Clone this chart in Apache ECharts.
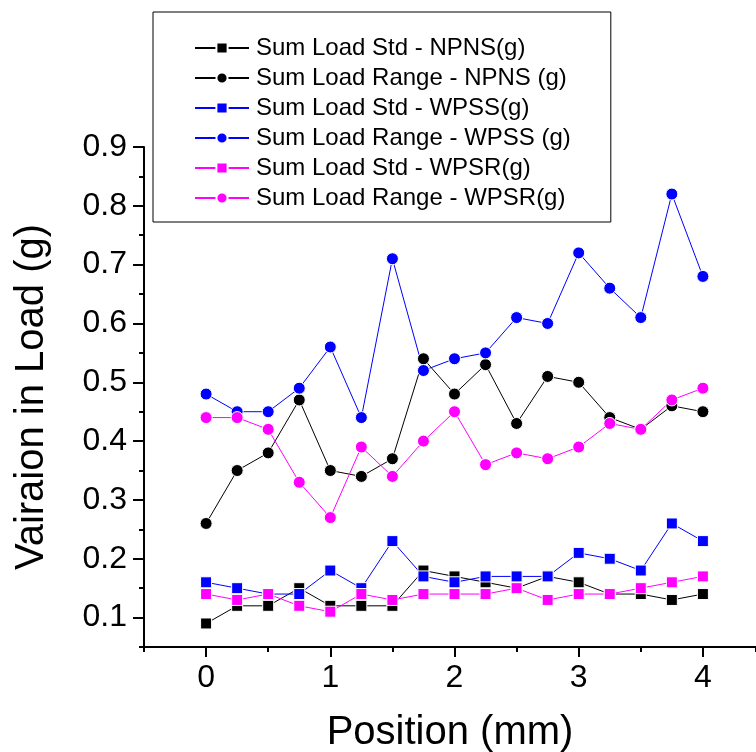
<!DOCTYPE html>
<html>
<head>
<meta charset="utf-8">
<script src="https://cdn.jsdelivr.net/npm/echarts@6/dist/echarts.min.js"></script>
<style>html,body{margin:0;padding:0;background:#fff;}#c{width:756px;height:752px;}</style>
</head>
<body>
<div id="c"></div>
<script>
// ---- data ----
const positions = [0, 0.25, 0.5, 0.75, 1, 1.25, 1.5, 1.75, 2, 2.25, 2.5, 2.75, 3, 3.25, 3.5, 3.75, 4];
const stdNPNS   = [0.09, 0.12, 0.12, 0.15, 0.12, 0.12, 0.12, 0.18, 0.17, 0.16, 0.15, 0.17, 0.16, 0.14, 0.14, 0.13, 0.14];
const rangeNPNS = [0.26, 0.35, 0.38, 0.47, 0.35, 0.34, 0.37, 0.54, 0.48, 0.53, 0.43, 0.51, 0.50, 0.44, 0.42, 0.46, 0.45];
const stdWPSS   = [0.16, 0.15, 0.14, 0.14, 0.18, 0.15, 0.23, 0.17, 0.16, 0.17, 0.17, 0.17, 0.21, 0.20, 0.18, 0.26, 0.23];
const rangeWPSS = [0.48, 0.45, 0.45, 0.49, 0.56, 0.44, 0.71, 0.52, 0.54, 0.55, 0.61, 0.60, 0.72, 0.66, 0.61, 0.82, 0.68];
const stdWPSR   = [0.14, 0.13, 0.14, 0.12, 0.11, 0.14, 0.13, 0.14, 0.14, 0.14, 0.15, 0.13, 0.14, 0.14, 0.15, 0.16, 0.17];
const rangeWPSR = [0.44, 0.44, 0.42, 0.33, 0.27, 0.39, 0.34, 0.40, 0.45, 0.36, 0.38, 0.37, 0.39, 0.43, 0.42, 0.47, 0.49];
const seriesNames = [
  'Sum Load Std - NPNS(g)',
  'Sum Load Range - NPNS (g)',
  'Sum Load Std - WPSS(g)',
  'Sum Load Range - WPSS (g)',
  'Sum Load Std - WPSR(g)',
  'Sum Load Range - WPSR(g)'
];
const xTitle = 'Position (mm)';
const yTitle = 'Vairaion in Load (g)';

// ---- layout ----
const FONT = 'Liberation Sans, Arial, sans-serif';
const W = 756;
const GL = 144, GT = 147, GH = 500;
const PX_PER_X = 124.2;             // pixels per mm on the x axis
const X_MIN = -0.5, Y_MIN = 0.05, Y_MAX = 0.9;
const GW = W - GL;                  // axis runs to the right edge of the page
const X_MAX = X_MIN + GW / PX_PER_X;
const pxPerY = GH / (Y_MAX - Y_MIN);

function pairs(vals) { return positions.map((p, i) => [p, vals[i]]); }
function mkSeries(name, vals, color, symbol, size) {
  return {
    name: name, type: 'line', xAxisIndex: 0, yAxisIndex: 0,
    data: pairs(vals), symbol: symbol, symbolSize: size,
    lineStyle: { color: color, width: 1 },
    itemStyle: { color: color, borderColor: '#fff', borderWidth: 1 },
    emphasis: { disabled: true }
  };
}

const chart = echarts.init(document.getElementById('c'), null, { renderer: 'canvas' });
const axisLineStyle = { color: '#000', width: 2 };
chart.setOption({
  animation: false,
  backgroundColor: '#fff',
  textStyle: { fontFamily: FONT },
  grid: [
    { left: GL, top: GT, width: GW, height: GH, outerBoundsMode: 'none', containLabel: false },
    { left: GL, top: GT, width: GW, height: pxPerY * (0.9 - 0.1), outerBoundsMode: 'none', containLabel: false },
    { left: GL + PX_PER_X * (0 - X_MIN), top: GT, width: PX_PER_X * 4, height: GH, outerBoundsMode: 'none', containLabel: false }
  ],
  xAxis: [
    { gridIndex: 0, type: 'value', min: X_MIN, max: X_MAX, interval: 0.5,
      axisLine: { show: true, onZero: false, lineStyle: axisLineStyle },
      axisTick: { show: true, length: 5, lineStyle: axisLineStyle },
      axisLabel: { show: false }, splitLine: { show: false },
      name: xTitle, nameLocation: 'middle', nameGap: 66,
      nameTextStyle: { fontSize: 40, color: '#000', fontFamily: FONT } },
    { gridIndex: 1, type: 'value', min: X_MIN, max: X_MAX, show: false },
    { gridIndex: 2, type: 'value', min: 0, max: 4, interval: 1,
      axisLine: { show: false, onZero: false },
      axisTick: { show: true, length: 10, lineStyle: axisLineStyle },
      axisLabel: { show: true, fontSize: 32, color: '#000', margin: 15, fontFamily: FONT },
      splitLine: { show: false } }
  ],
  yAxis: [
    { gridIndex: 0, type: 'value', min: Y_MIN, max: Y_MAX, interval: 0.05,
      axisLine: { show: true, onZero: false, lineStyle: axisLineStyle },
      axisTick: { show: true, length: 5, lineStyle: axisLineStyle },
      axisLabel: { show: false }, splitLine: { show: false },
      name: yTitle, nameLocation: 'middle', nameGap: 92, nameRotate: 90,
      nameTextStyle: { fontSize: 40, color: '#000', fontFamily: FONT } },
    { gridIndex: 1, type: 'value', min: 0.1, max: 0.9, interval: 0.1,
      axisLine: { show: false, onZero: false },
      axisTick: { show: true, length: 11, lineStyle: axisLineStyle },
      axisLabel: { show: true, fontSize: 32, color: '#000', margin: 17, fontFamily: FONT,
        formatter: v => v.toFixed(1) },
      splitLine: { show: false } },
    { gridIndex: 2, type: 'value', min: Y_MIN, max: Y_MAX, show: false }
  ],
  legend: {
    show: true, orient: 'vertical', left: 153, top: 12,
    backgroundColor: '#fff', borderColor: '#000', borderWidth: 1, borderRadius: 0,
    padding: [24, 40, 12, 41],
    itemWidth: 54, itemHeight: 14, itemGap: 6,
    textStyle: { fontSize: 24, color: '#000', fontFamily: FONT, lineHeight: 24, padding: [0, 0, 0, 2] },
    data: seriesNames
  },
  series: [
    mkSeries(seriesNames[0], stdNPNS, '#000000', 'rect', 11),
    mkSeries(seriesNames[1], rangeNPNS, '#000000', 'circle', 12),
    mkSeries(seriesNames[2], stdWPSS, '#0000ff', 'rect', 11),
    mkSeries(seriesNames[3], rangeWPSS, '#0000ff', 'circle', 12),
    mkSeries(seriesNames[4], stdWPSR, '#ff00ff', 'rect', 11),
    mkSeries(seriesNames[5], rangeWPSR, '#ff00ff', 'circle', 12)
  ]
});
</script>
</body>
</html>
